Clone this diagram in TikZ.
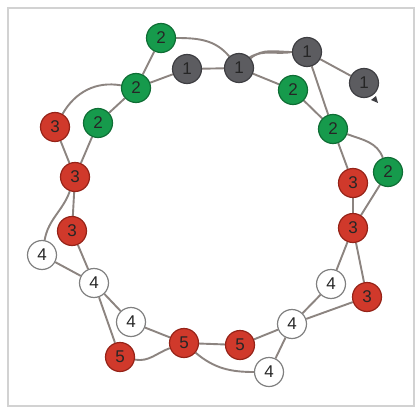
\documentclass[tikz,border=0pt]{standalone}
\usepackage{fontspec}
\setmainfont{Liberation Sans}
\usetikzlibrary{backgrounds}
\definecolor{cgray}{HTML}{5C5C60}
\definecolor{cgrayd}{HTML}{3E3E42}
\definecolor{cgreen}{HTML}{169A4C}
\definecolor{cgreend}{HTML}{0F6E35}
\definecolor{cred}{HTML}{D0392B}
\definecolor{credd}{HTML}{962318}
\definecolor{cline}{HTML}{8C8480}
\definecolor{cframe}{HTML}{D2D2D2}
\begin{document}
\begin{tikzpicture}[x=1pt,y=-1pt,
  ball/.style={circle,minimum size=29pt,inner sep=0pt,line width=1.2pt,font=\fontsize{17}{17}\selectfont,text=black!85},
  gr/.style={ball,fill=cgray,draw=cgrayd},
  gn/.style={ball,fill=cgreen,draw=cgreend},
  rd/.style={ball,fill=cred,draw=credd},
  wh/.style={ball,fill=white,draw=black!50},
  ln/.style={draw=cline,line width=1.9pt}]
\node[gr] (A1) at (187,69) {1};
\node[gr] (A2) at (239,68) {1};
\node[gr] (A3) at (307,52) {1};
\node[gr] (A4) at (364,83) {1};
\node[gn] (G1) at (161,38) {2};
\node[gn] (G2) at (136,88) {2};
\node[gn] (G3) at (98,123) {2};
\node[gn] (G4) at (293,90) {2};
\node[gn] (G5) at (333,129) {2};
\node[gn] (G6) at (388,172) {2};
\node[rd] (R1) at (55,127) {3};
\node[rd] (R2) at (75,177) {3};
\node[rd] (R3) at (72,231) {3};
\node[rd] (R4) at (353,183) {3};
\node[rd] (R5) at (353,228) {3};
\node[rd] (R6) at (367,297) {3};
\node[wh] (W1) at (42,255) {4};
\node[wh] (W2) at (94,283) {4};
\node[wh] (W3) at (131,322) {4};
\node[wh] (W4) at (331,284) {4};
\node[wh] (W5) at (292,324) {4};
\node[wh] (W6) at (269,372) {4};
\node[rd] (F1) at (120,357) {5};
\node[rd] (F2) at (184,343) {5};
\node[rd] (F3) at (240,345) {5};
\coordinate (T) at (378,103);
\fill[cgrayd] (T) -- ++(-7,-3) -- ++(5,-4) -- cycle;
\begin{pgfonlayer}{background}
\fill[white] (0,0) rectangle (417,409);
\draw[cframe,line width=2pt] (8,8) rectangle (414,406);
\path[ln] (G1) -- (G2) (A1) -- (G2) (A1) -- (A2) (A2) -- (G4)
  (A3) -- (A4) (A3) -- (G5) (G4) -- (G5) (G5) -- (R4) (G6) -- (R5)
  (R4) -- (R5) (R5) -- (W4) (R5) -- (R6) (R6) -- (W5) (W4) -- (W5)
  (W5) -- (F3) (W5) -- (W6) (F3) -- (F2) (F2) -- (W3) (F1) -- (W2)
  (W3) -- (W2) (W2) -- (W1) (W2) -- (R3) (R3) -- (R2) (R2) -- (R1)
  (R2) -- (G3) (G3) -- (G2);
\path[ln] (G1) to[out=0,in=130] (A2);
\path[ln] (A2) to[out=40,in=180] (A3);
\path[ln] (A2.north east) to[out=30,in=190] (A3.west);
\path[ln] (G5) to[out=-20,in=110] (G6);
\path[ln] (W1) to[out=80,in=-110] (R2);
\path[ln] (R1) to[out=60,in=170] (G2);
\path[ln] (F1) to[out=-10,in=200] (F2);
\path[ln] (W6) to[out=180,in=-40] (F2);
\end{pgfonlayer}
\end{tikzpicture}
\end{document}
